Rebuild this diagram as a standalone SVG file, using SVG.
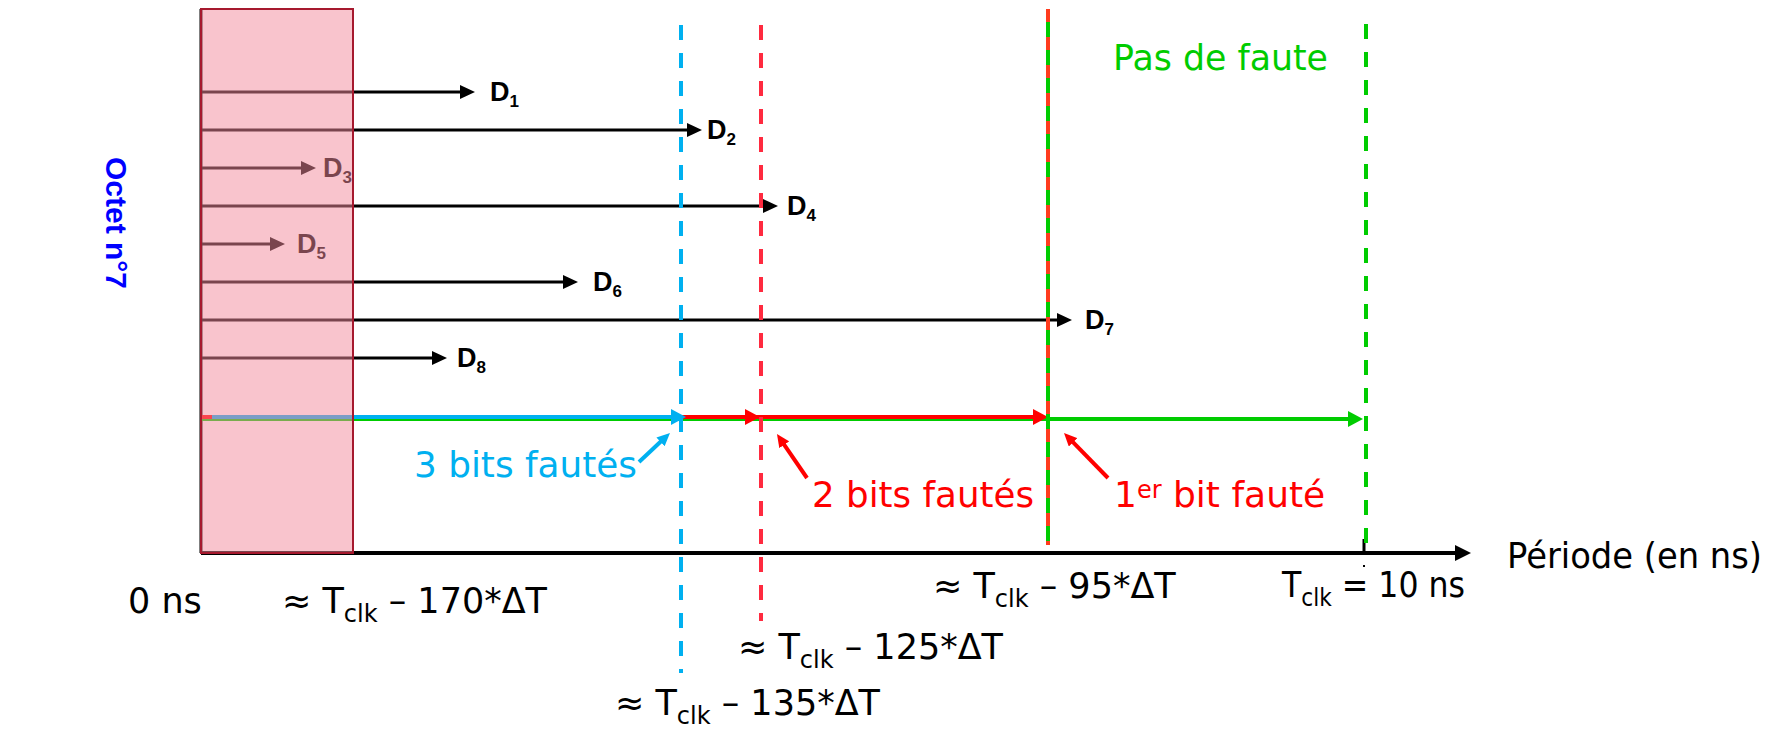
<svg xmlns="http://www.w3.org/2000/svg" width="1779" height="729" viewBox="0 0 1779 729">
<style>
.lbl{font-family:"DejaVu Sans",sans-serif;font-size:35px;fill:#000}
.sub{font-size:24px}
.d{font-family:"Liberation Sans",sans-serif;font-weight:bold;font-size:27px;fill:#000}
.ds{font-size:17px}
.bl{stroke:#000;stroke-width:3;fill:none}
.note{font-family:"DejaVu Sans",sans-serif;font-size:36px}
</style>
<defs>
<marker id="ak" viewBox="0 0 15 14" markerWidth="15" markerHeight="14" refX="3" refY="7" orient="auto" markerUnits="userSpaceOnUse"><path d="M0,0 L15,7 L0,14 z" fill="#000"/></marker>
<marker id="ab" viewBox="0 0 15 16" markerWidth="15" markerHeight="16" refX="3" refY="8" orient="auto" markerUnits="userSpaceOnUse"><path d="M0,0 L15,8 L0,16 z" fill="#00b0f0"/></marker>
<marker id="ar" viewBox="0 0 15 16" markerWidth="15" markerHeight="16" refX="3" refY="8" orient="auto" markerUnits="userSpaceOnUse"><path d="M0,0 L15,8 L0,16 z" fill="#ff0000"/></marker>
<marker id="ag" viewBox="0 0 15 16" markerWidth="15" markerHeight="16" refX="3" refY="8" orient="auto" markerUnits="userSpaceOnUse"><path d="M0,0 L15,8 L0,16 z" fill="#00cc00"/></marker>
<marker id="cb" viewBox="0 0 13 12" markerWidth="13" markerHeight="12" refX="3" refY="6" orient="auto" markerUnits="userSpaceOnUse"><path d="M0,0 L13,6 L0,12 z" fill="#00b0f0"/></marker>
<marker id="cr" viewBox="0 0 13 12" markerWidth="13" markerHeight="12" refX="3" refY="6" orient="auto" markerUnits="userSpaceOnUse"><path d="M0,0 L13,6 L0,12 z" fill="#ff0000"/></marker>
<marker id="ax" viewBox="0 0 16 16" markerWidth="16" markerHeight="16" refX="3" refY="8" orient="auto" markerUnits="userSpaceOnUse"><path d="M0,0 L16,8 L0,16 z" fill="#000"/></marker>
</defs>
<rect width="1779" height="729" fill="#fff"/>

<g id="connectors">
  <line x1="201" y1="9" x2="201" y2="553" stroke="#000" stroke-width="3"/>
  <line x1="201" y1="553" x2="1458" y2="553" stroke="#000" stroke-width="4" marker-end="url(#ax)"/>
  <line x1="1364" y1="539" x2="1364" y2="554" stroke="#000" stroke-width="3"/>
  <rect x="1363" y="565" width="2" height="2" fill="#000"/>
  <line class="bl" x1="201" y1="92" x2="463" y2="92" marker-end="url(#ak)"/>
  <line class="bl" x1="201" y1="130" x2="690" y2="130" marker-end="url(#ak)"/>
  <line class="bl" x1="201" y1="168" x2="304" y2="168" marker-end="url(#ak)"/>
  <line class="bl" x1="201" y1="206" x2="766" y2="206" marker-end="url(#ak)"/>
  <line class="bl" x1="201" y1="244" x2="273" y2="244" marker-end="url(#ak)"/>
  <line class="bl" x1="201" y1="282" x2="566" y2="282" marker-end="url(#ak)"/>
  <line class="bl" x1="201" y1="320" x2="1060" y2="320" marker-end="url(#ak)"/>
  <line class="bl" x1="201" y1="358" x2="435" y2="358" marker-end="url(#ak)"/>
  <line x1="201" y1="419" x2="1351" y2="419" stroke="#00cc00" stroke-width="4" marker-end="url(#ag)"/>
  <line x1="201" y1="417" x2="1036" y2="417" stroke="#ff0000" stroke-width="4" marker-end="url(#ar)"/>
  <line x1="686" y1="417" x2="748" y2="417" stroke="#ff0000" stroke-width="4" marker-end="url(#ar)"/>
  <line x1="212" y1="417" x2="674" y2="417" stroke="#00b0f0" stroke-width="4" marker-end="url(#ab)"/>
  <line x1="681" y1="25" x2="681" y2="673" stroke="#00b0f0" stroke-width="4" stroke-dasharray="15 13"/>
  <line x1="761" y1="25" x2="761" y2="621" stroke="#ff2a3f" stroke-width="4" stroke-dasharray="15 13"/>
  <line x1="1048" y1="9" x2="1048" y2="545" stroke="#00cc00" stroke-width="4"/>
  <line x1="1048" y1="9" x2="1048" y2="545" stroke="#ff3c1e" stroke-width="4" stroke-dasharray="13 15"/>
  <line x1="1366" y1="24" x2="1366" y2="545" stroke="#00cc00" stroke-width="4" stroke-dasharray="15 13"/>
  <line x1="639" y1="462" x2="662.7" y2="439.8" stroke="#00b0f0" stroke-width="4" marker-end="url(#cb)"/>
  <line x1="807" y1="478" x2="782.6" y2="442.3" stroke="#ff0000" stroke-width="4" marker-end="url(#cr)"/>
  <line x1="1108" y1="478" x2="1071" y2="440.2" stroke="#ff0000" stroke-width="4" marker-end="url(#cr)"/>
</g>

<g id="d1"><text class="d" x="490" y="101">D<tspan class="ds" dy="6">1</tspan></text></g>
<g id="d2"><text class="d" x="707" y="139">D<tspan class="ds" dy="6">2</tspan></text></g>
<g id="d3"><text class="d" x="323" y="177">D<tspan class="ds" dy="6">3</tspan></text></g>
<g id="d4"><text class="d" x="787" y="215">D<tspan class="ds" dy="6">4</tspan></text></g>
<g id="d5"><text class="d" x="297" y="253">D<tspan class="ds" dy="6">5</tspan></text></g>
<g id="d6"><text class="d" x="593" y="291">D<tspan class="ds" dy="6">6</tspan></text></g>
<g id="d7"><text class="d" x="1085" y="329">D<tspan class="ds" dy="6">7</tspan></text></g>
<g id="d8"><text class="d" x="457" y="367">D<tspan class="ds" dy="6">8</tspan></text></g>

<g id="octet"><text transform="translate(116,223) rotate(90)" x="0" y="10" text-anchor="middle" font-family="Liberation Sans, sans-serif" font-weight="bold" font-size="30" fill="#0000ff">Octet n°7</text></g>

<g id="pink-zone"><rect x="201" y="9" width="152" height="544" fill="#f4899c" fill-opacity="0.5" stroke="#a6192e" stroke-width="2"/></g>

<g id="pas-de-faute"><text class="note" x="1113" y="70" font-size="34" fill="#00cc00" textLength="215" lengthAdjust="spacingAndGlyphs">Pas de faute</text></g>
<g id="trois-bits"><text class="note" x="414" y="477" fill="#00b0f0" textLength="223" lengthAdjust="spacingAndGlyphs">3 bits fautés</text></g>
<g id="deux-bits"><text class="note" x="812" y="507" fill="#ff0000" textLength="222" lengthAdjust="spacingAndGlyphs">2 bits fautés</text></g>
<g id="premier-bit"><text class="note" x="1114" y="507" fill="#ff0000">1<tspan font-size="24" dy="-9">er</tspan><tspan dy="9"> bit fauté</tspan></text></g>

<g id="periode"><text class="lbl" x="1507" y="568" font-size="33" textLength="255" lengthAdjust="spacingAndGlyphs">Période (en ns)</text></g>
<g id="t0"><text class="lbl" x="128" y="613">0 ns</text></g>
<g id="t170"><text class="lbl" x="282" y="613">≈ T<tspan class="sub" dy="9">clk</tspan><tspan dy="-9"> – 170*ΔT</tspan></text></g>
<g id="t135"><text class="lbl" x="615" y="715">≈ T<tspan class="sub" dy="9">clk</tspan><tspan dy="-9"> – 135*ΔT</tspan></text></g>
<g id="t125"><text class="lbl" x="738" y="659">≈ T<tspan class="sub" dy="9">clk</tspan><tspan dy="-9"> – 125*ΔT</tspan></text></g>
<g id="t95"><text class="lbl" x="933" y="598">≈ T<tspan class="sub" dy="9">clk</tspan><tspan dy="-9"> – 95*ΔT</tspan></text></g>
<g id="tclk"><text class="lbl" x="1282" y="597" font-size="33" textLength="183" lengthAdjust="spacingAndGlyphs">T<tspan class="sub" dy="9">clk</tspan><tspan dy="-9"> = 10 ns</tspan></text></g>
</svg>
